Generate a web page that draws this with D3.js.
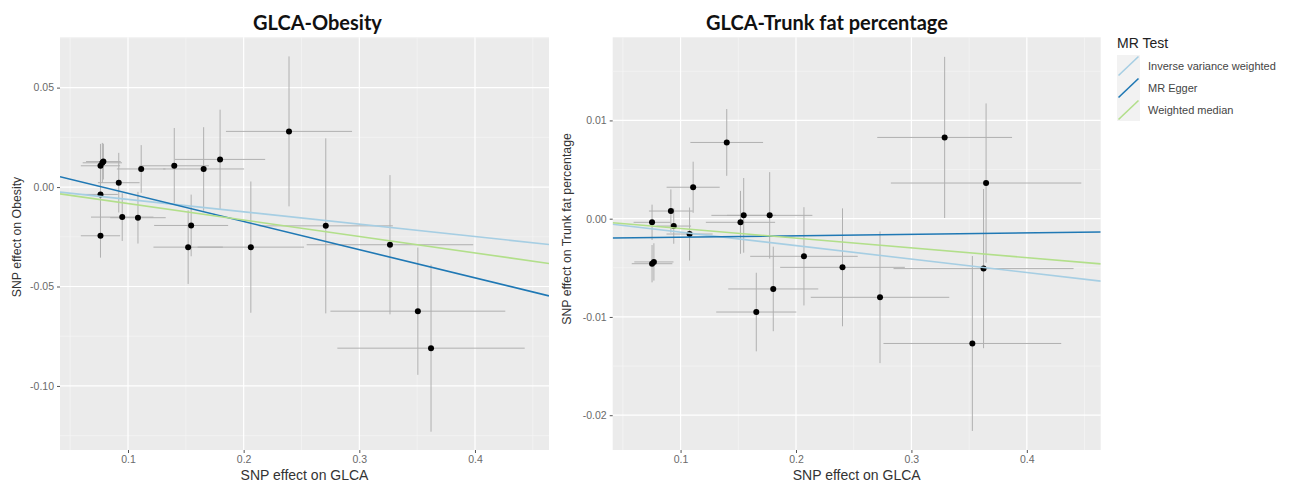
<!DOCTYPE html>
<html>
<head>
<meta charset="utf-8">
<script src="https://cdn.jsdelivr.net/npm/d3@7"></script>
<style>
  body { margin: 0; background: #fff; }
  svg { display: block; font-family: "Liberation Sans", Arial, sans-serif; }
</style>
</head>
<body>
<svg id="chart" width="1294" height="483"></svg>
<script>
// shared tick labels
const xTickValues = [0.1, 0.2, 0.3, 0.4];
const xTickLabels = ["0.1", "0.2", "0.3", "0.4"];
const xMinorTicks = [0.05, 0.15, 0.25, 0.35, 0.45];

// GLCA-Obesity panel
const obesityYTicks = [0.05, 0, -0.05, -0.10];
const obesityYTickLabels = ["0.05", "0.00", "-0.05", "-0.10"];
const obesityYMinor = [0.075, 0.025, -0.025, -0.075, -0.125];
const obesityBx =   [0.0762, 0.0778, 0.0787, 0.0762, 0.0762, 0.092, 0.095, 0.1086, 0.1114, 0.140, 0.152, 0.1546, 0.1654, 0.1796, 0.2062, 0.2392, 0.271, 0.3265, 0.3506, 0.362];
const obesitySeBx = [0.017, 0.017, 0.015, 0.015, 0.017, 0.018, 0.027, 0.024, 0.021, 0.030, 0.030, 0.032, 0.035, 0.039, 0.046, 0.0545, 0.058, 0.072, 0.0756, 0.081];
const obesityBy =   [0.0107, 0.0122, 0.0128, -0.0037, -0.0245, 0.0022, -0.0151, -0.0154, 0.0091, 0.0107, -0.0302, -0.0193, 0.0091, 0.0139, -0.0302, 0.028, -0.0195, -0.029, -0.0624, -0.081];
const obesitySeBy = [0.011, 0.010, 0.009, 0.012, 0.011, 0.015, 0.012, 0.013, 0.012, 0.019, 0.0185, 0.0155, 0.021, 0.025, 0.033, 0.0377, 0.044, 0.035, 0.032, 0.042];
const obesityIntercepts = [0, 0.0110, 0];
const obesitySlopes = [-0.0622, -0.1416, -0.0828];

// GLCA-Trunk fat percentage panel
const trunkYTicks = [0.01, 0, -0.01, -0.02];
const trunkYTickLabels = ["0.01", "0.00", "-0.01", "-0.02"];
const trunkYMinor = [0.015, 0.005, -0.005, -0.015];
const trunkBx =   [0.0753, 0.0916, 0.0941, 0.1078, 0.0753, 0.0769, 0.1109, 0.140, 0.1519, 0.1547, 0.1772, 0.1803, 0.1656, 0.2069, 0.2403, 0.2728, 0.3288, 0.3647, 0.3625, 0.3528];
const trunkSeBx = [0.016, 0.019, 0.015, 0.020, 0.0176, 0.017, 0.023, 0.0315, 0.030, 0.028, 0.037, 0.039, 0.0347, 0.0466, 0.054, 0.060, 0.0584, 0.0825, 0.078, 0.077];
const trunkBy =   [-0.00037, 0.00078, -0.00075, -0.00156, -0.00458, -0.0044, 0.0032, 0.00776, -0.00037, 0.00034, 0.00034, -0.00715, -0.0095, -0.00383, -0.00495, -0.008, 0.00827, 0.00363, -0.00508, -0.0127];
const trunkSeBy = [0.0018, 0.0022, 0.0018, 0.0027, 0.0019, 0.0019, 0.0026, 0.0034, 0.0032, 0.0038, 0.0044, 0.0043, 0.004, 0.005, 0.006, 0.0067, 0.0082, 0.0081, 0.0081, 0.0089];
const trunkIntercepts = [0, -0.00203, 0];
const trunkSlopes = [-0.0137, 0.00145, -0.0099];

// MR methods
const methods = ["Inverse variance weighted", "MR Egger", "Weighted median"];
const methodColors = ["#a6cee3", "#1f78b4", "#b2df8a"];

const xDomain = [0.0412, 0.464];

const svg = d3.select("#chart");

function drawPanel(opts) {
    const x = d3.scaleLinear().domain(xDomain).range([opts.left, opts.right]);
    const y = d3.scaleLinear().domain(opts.yDomain).range([opts.bottom, opts.top]);

    const g = svg.append("g");

    g.append("rect")
        .attr("x", opts.left).attr("y", opts.top)
        .attr("width", opts.right - opts.left).attr("height", opts.bottom - opts.top)
        .attr("fill", "#ebebeb");

    // minor grid
    g.selectAll(".vminor").data(xMinorTicks.filter(d => d > xDomain[0] && d < xDomain[1]))
        .join("line")
        .attr("x1", d => x(d)).attr("x2", d => x(d))
        .attr("y1", opts.top).attr("y2", opts.bottom)
        .attr("stroke", "#f7f7f7").attr("stroke-width", 0.6);
    g.selectAll(".hminor").data(opts.yMinor.filter(d => d > opts.yDomain[0] && d < opts.yDomain[1]))
        .join("line")
        .attr("x1", opts.left).attr("x2", opts.right)
        .attr("y1", d => y(d)).attr("y2", d => y(d))
        .attr("stroke", "#f7f7f7").attr("stroke-width", 0.6);

    // major grid
    g.selectAll(".vmajor").data(xTickValues)
        .join("line")
        .attr("x1", d => x(d)).attr("x2", d => x(d))
        .attr("y1", opts.top).attr("y2", opts.bottom)
        .attr("stroke", "#fff").attr("stroke-width", 1.2);
    g.selectAll(".hmajor").data(opts.yTicks)
        .join("line")
        .attr("x1", opts.left).attr("x2", opts.right)
        .attr("y1", d => y(d)).attr("y2", d => y(d))
        .attr("stroke", "#fff").attr("stroke-width", 1.2);

    // axes
    const xAxis = d3.axisBottom(x).tickValues(xTickValues)
        .tickFormat((d, i) => xTickLabels[i]).tickSize(3).tickPadding(3);
    const gx = g.append("g").attr("transform", `translate(0,${opts.bottom})`).call(xAxis);
    const yAxis = d3.axisLeft(y).tickValues(opts.yTicks)
        .tickFormat((d, i) => opts.yTickLabels[i]).tickSize(3).tickPadding(3);
    const gy = g.append("g").attr("transform", `translate(${opts.left},0)`).call(yAxis);
    [gx, gy].forEach(a => {
        a.select(".domain").remove();
        a.selectAll(".tick line").attr("stroke", "#555");
        a.selectAll(".tick text").attr("fill", "#6a6a6a")
            .style("font-size", "10.5px")
            .style("font-family", "'Liberation Sans', Arial, sans-serif");
    });

    g.append("text")
        .attr("x", (opts.left + opts.right) / 2).attr("y", 480)
        .attr("text-anchor", "middle").style("font-size", "14px").attr("fill", "#333")
        .text("SNP effect on GLCA");
    g.append("text")
        .attr("transform", `translate(${opts.yTitleX},${opts.yTitleY}) rotate(-90)`)
        .attr("text-anchor", "middle").style("font-size", "12.3px").attr("fill", "#333")
        .text(opts.yTitle);

    g.append("text")
        .attr("x", opts.titleX).attr("y", 29.5)
        .style("font-family", "Lato, 'Open Sans', sans-serif").style("font-weight", "700")
        .style("font-size", "20px").attr("fill", "#111")
        .text(opts.title);

    const clipId = "clip" + Math.round(opts.left);
    svg.append("clipPath").attr("id", clipId).append("rect")
        .attr("x", opts.left).attr("y", opts.top)
        .attr("width", opts.right - opts.left).attr("height", opts.bottom - opts.top);
    const plot = g.append("g").attr("clip-path", `url(#${clipId})`);

    const pts = opts.bx.map((d, i) => ({ bx: d, sx: opts.sebx[i], by: opts.by[i], sy: opts.seby[i] }));

    plot.selectAll(".ev").data(pts).join("line")
        .attr("x1", d => x(d.bx)).attr("x2", d => x(d.bx))
        .attr("y1", d => y(d.by - d.sy)).attr("y2", d => y(d.by + d.sy))
        .attr("stroke", "#b0b0b0").attr("stroke-width", 1);
    plot.selectAll(".eh").data(pts).join("line")
        .attr("x1", d => x(d.bx - d.sx)).attr("x2", d => x(d.bx + d.sx))
        .attr("y1", d => y(d.by)).attr("y2", d => y(d.by))
        .attr("stroke", "#b0b0b0").attr("stroke-width", 1);
    plot.selectAll(".pt").data(pts).join("circle")
        .attr("cx", d => x(d.bx)).attr("cy", d => y(d.by))
        .attr("r", 3).attr("fill", "#000");

    // regression lines over the whole panel
    methods.forEach((m, i) => {
        const a = opts.intercepts[i], b = opts.slopes[i];
        plot.append("line")
            .attr("x1", x(xDomain[0])).attr("x2", x(xDomain[1]))
            .attr("y1", y(a + b * xDomain[0])).attr("y2", y(a + b * xDomain[1]))
            .attr("stroke", methodColors[i]).attr("stroke-width", 1.6);
    });
}

drawPanel({
    left: 60, right: 549, top: 37.3, bottom: 450,
    yDomain: [-0.1322, 0.0753], yTicks: obesityYTicks, yTickLabels: obesityYTickLabels, yMinor: obesityYMinor,
    bx: obesityBx, sebx: obesitySeBx, by: obesityBy, seby: obesitySeBy,
    intercepts: obesityIntercepts, slopes: obesitySlopes,
    title: "GLCA-Obesity", titleX: 253, yTitle: "SNP effect on Obesity", yTitleX: 21, yTitleY: 237
});

drawPanel({
    left: 612.7, right: 1100.7, top: 37.3, bottom: 450,
    yDomain: [-0.02354, 0.01846], yTicks: trunkYTicks, yTickLabels: trunkYTickLabels, yMinor: trunkYMinor,
    bx: trunkBx, sebx: trunkSeBx, by: trunkBy, seby: trunkSeBy,
    intercepts: trunkIntercepts, slopes: trunkSlopes,
    title: "GLCA-Trunk fat percentage", titleX: 706, yTitle: "SNP effect on Trunk fat percentage", yTitleX: 571, yTitleY: 229
});

// legend
const legend = svg.append("g").attr("transform", "translate(1117,0)");
legend.append("text").attr("x", 0).attr("y", 48).style("font-size", "14px").attr("fill", "#222").text("MR Test");
const rows = legend.selectAll(".row").data(methods).join("g")
    .attr("transform", (d, i) => `translate(0,${55 + i * 22})`);
rows.append("rect").attr("width", 23).attr("height", 22).attr("fill", "#f2f2f2");
rows.append("line").attr("x1", 1.5).attr("y1", 20.5).attr("x2", 21.5).attr("y2", 1.5)
    .attr("stroke", (d, i) => methodColors[i]).attr("stroke-width", 1.6);
rows.append("text").attr("x", 31).attr("y", 15).style("font-size", "11px").attr("fill", "#444").text(d => d);
</script>
</body>
</html>
